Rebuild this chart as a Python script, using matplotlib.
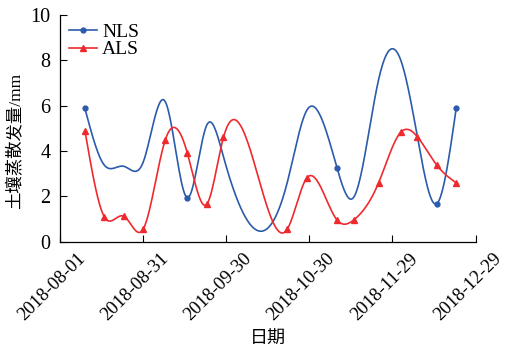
import numpy as np
import matplotlib
matplotlib.use("Agg")
import matplotlib.pyplot as plt
import matplotlib.dates as mdates
import matplotlib.transforms as mtransforms

# Observation dates and evapotranspiration (mm)
dates = ["2018-08-10", "2018-08-17", "2018-08-24", "2018-08-31", "2018-09-08",
         "2018-09-16", "2018-09-23", "2018-09-29", "2018-10-22", "2018-10-29",
         "2018-11-09", "2018-11-15", "2018-11-24", "2018-12-02", "2018-12-08",
         "2018-12-15", "2018-12-22"]
nls = [5.88, 3.38, 3.33, 3.5, 6.18, 1.94, 5.15, 3.75, 2.6, 5.78,
       3.26, 1.96, 7.15, 8.01, 4.63, 1.68, 5.88]
als = [4.9, 1.10, 1.13, 0.55, 4.49, 3.9, 1.66, 4.6, 0.55, 2.8,
       0.96, 0.96, 2.6, 4.83, 4.63, 3.38, 2.6]
nls_marked = [0, 5, 10, 15, 16]
tick_dates = ["2018-08-01", "2018-08-31", "2018-09-30", "2018-10-30",
              "2018-11-29", "2018-12-29"]


def natural_spline(x, y, xs):
    x = np.asarray(x, float)
    y = np.asarray(y, float)
    n = len(x)
    h = np.diff(x)
    A = np.zeros((n, n))
    b = np.zeros(n)
    A[0, 0] = A[-1, -1] = 1.0
    for i in range(1, n - 1):
        A[i, i - 1] = h[i - 1]
        A[i, i] = 2 * (h[i - 1] + h[i])
        A[i, i + 1] = h[i]
        b[i] = 6 * ((y[i + 1] - y[i]) / h[i] - (y[i] - y[i - 1]) / h[i - 1])
    M = np.linalg.solve(A, b)
    idx = np.clip(np.searchsorted(x, xs) - 1, 0, n - 2)
    x0, x1 = x[idx], x[idx + 1]
    hh = x1 - x0
    t0 = x1 - xs
    t1 = xs - x0
    return (M[idx] * t0 ** 3 / (6 * hh) + M[idx + 1] * t1 ** 3 / (6 * hh)
            + (y[idx] / hh - M[idx] * hh / 6) * t0
            + (y[idx + 1] / hh - M[idx + 1] * hh / 6) * t1)


x = mdates.datestr2num(dates)
xs = np.linspace(x[0], x[-1], 800)

serif = ["Liberation Serif", "Noto Sans CJK SC"]
plt.rcParams["font.family"] = serif
plt.rcParams["font.size"] = 14

fig = plt.figure(figsize=(5.07, 3.54), dpi=100)
ax = fig.add_axes([0.1183, 0.317, 0.8197, 0.6406])

blue = "#2B5BAA"
red = "#EE2A2E"

ax.plot(xs, natural_spline(x, nls, xs), color=blue, lw=1.2)
ax.plot(x[nls_marked], np.array(nls)[nls_marked], "o", color=blue, ms=3.5)
ax.plot(xs, natural_spline(x, als, xs), color=red, lw=1.2)
ax.plot(x, als, "^", color=red, ms=4)

# legend proxies
ax.plot([], [], "-o", color=blue, lw=1.2, ms=3.5, label="NLS")
ax.plot([], [], "-^", color=red, lw=1.2, ms=4, label="ALS")
ax.legend(loc="upper left", frameon=False, handlelength=1.45,
          borderaxespad=0.0, borderpad=0.3, labelspacing=0.0,
          handletextpad=0.25, fontsize=14, bbox_to_anchor=(0.008, 0.99))

tx = mdates.datestr2num(tick_dates)
ax.set_xlim(tx[0], tx[-1])
ax.set_xticks(tx)
ax.set_xticklabels(tick_dates, rotation=45, ha="center")
ax.set_ylim(0, 10)
ax.set_yticks(range(0, 11, 2))
ax.tick_params(direction="in", length=5, width=0.8)
ax.tick_params(axis="y", labelsize=14.5, pad=7)
ax.tick_params(axis="x", labelsize=13.5, pad=6)

# nudge the rotated date labels slightly to the left
shift = mtransforms.ScaledTranslation(-8 / 100, 0, fig.dpi_scale_trans)
for lbl in ax.get_xticklabels():
    lbl.set_transform(lbl.get_transform() + shift)

for s in ["top", "right"]:
    ax.spines[s].set_visible(False)
for s in ["left", "bottom"]:
    ax.spines[s].set_linewidth(0.9)

ax.set_xlabel("日期", fontsize=13, labelpad=5)
ax.set_ylabel("土壤蒸散发量/mm", fontsize=12.5, labelpad=6)
ax.yaxis.set_label_coords(-0.085, 0.444)

fig.savefig("out.png", dpi=100)
